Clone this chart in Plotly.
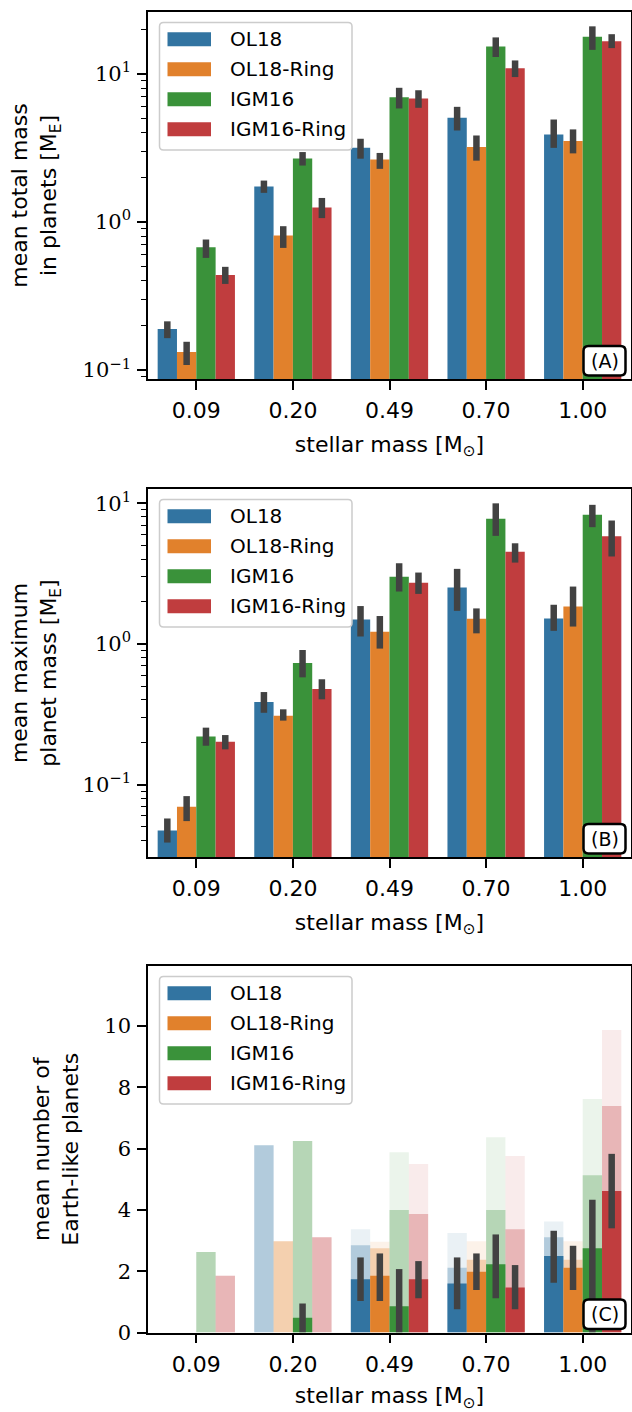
import plotly.graph_objects as go

# ---------------- data ----------------
categories = ["0.09", "0.20", "0.49", "0.70", "1.00"]
series = ["OL18", "OL18-Ring", "IGM16", "IGM16-Ring"]
colors = ["#3274a1", "#e1812c", "#3a923a", "#c03d3e"]

# Panel A: mean total mass in planets [M_E]  (rows follow `series`)
total_mean = [
    [0.189, 1.73, 3.16, 5.04, 3.89],
    [0.132, 0.809, 2.64, 3.20, 3.52],
    [0.674, 2.68, 6.95, 15.3, 17.8],
    [0.438, 1.25, 6.81, 10.9, 16.6],
]
total_lo = [
    [0.164, 1.57, 2.67, 4.14, 3.16],
    [0.108, 0.667, 2.28, 2.59, 2.90],
    [0.571, 2.40, 5.83, 12.97, 14.5],
    [0.381, 1.06, 5.89, 9.5, 14.9],
]
total_hi = [
    [0.213, 1.90, 3.64, 5.98, 4.91],
    [0.155, 0.935, 2.92, 3.83, 4.21],
    [0.76, 2.96, 8.04, 17.6, 20.9],
    [0.497, 1.45, 7.74, 12.3, 18.5],
]

# Panel B: mean maximum planet mass [M_E]
maxmass_mean = [
    [0.0472, 0.386, 1.49, 2.52, 1.52],
    [0.0695, 0.309, 1.22, 1.51, 1.85],
    [0.220, 0.733, 3.01, 7.76, 8.28],
    [0.202, 0.478, 2.73, 4.52, 5.84],
]
maxmass_lo = [
    [0.0387, 0.324, 1.13, 1.72, 1.24],
    [0.055, 0.285, 0.927, 1.19, 1.33],
    [0.189, 0.579, 2.36, 5.87, 6.77],
    [0.178, 0.404, 2.27, 3.79, 4.19],
]
maxmass_hi = [
    [0.0574, 0.455, 1.86, 3.42, 1.90],
    [0.0828, 0.343, 1.58, 1.79, 2.56],
    [0.254, 0.906, 3.75, 10.0, 9.76],
    [0.225, 0.561, 3.22, 5.2, 7.55],
]

# Panel C: mean number of Earth-like planets
earth_mean = [
    [0, 0, 1.74, 1.60, 2.50],
    [0, 0, 1.85, 1.98, 2.11],
    [0, 0.48, 0.86, 2.23, 2.75],
    [0, 0, 1.74, 1.47, 4.62],
]
earth_lo = [
    [0, 0, 1.03, 0.76, 1.62],
    [0, 0, 1.03, 1.39, 1.39],
    [0, 0, 0.0, 1.12, 0.0],
    [0, 0, 1.12, 0.76, 3.40],
]
earth_hi = [
    [0, 0, 2.45, 2.45, 3.32],
    [0, 0, 2.58, 2.58, 2.83],
    [0, 0.95, 2.07, 3.20, 4.33],
    [0, 0, 2.33, 2.20, 5.83],
]
earth_wide = [
    [0, 6.11, 2.85, 2.11, 3.11],
    [0, 2.98, 2.75, 2.37, 2.37],
    [2.63, 6.25, 4.0, 4.0, 5.13],
    [1.85, 3.11, 3.87, 3.37, 7.39],
]
earth_widest = [
    [0, 6.11, 3.37, 3.25, 3.62],
    [0, 2.98, 2.96, 2.98, 2.98],
    [2.63, 6.25, 5.88, 6.37, 7.62],
    [1.85, 3.11, 5.50, 5.76, 9.87],
]

log_tick_vals = [0.1, 1, 10]
log_tick_text = ["10<sup>\u22121</sup>", "10<sup>0</sup>", "10<sup>1</sup>"]
count_tick_vals = [0, 2, 4, 6, 8, 10]
panel_labels = ["(A)", "(B)", "(C)"]

# ---------------- style / layout ----------------
W, H = 632, 1412
SANS = "DejaVu Sans"
SERIF = "DejaVu Serif"
ERR_COLOR = "#424242"
AX_LEFT, AX_RIGHT = 148, 631
panel_px = [(12, 379), (489, 857), (966, 1332.5)]  # (top, bottom) in px


def rgba(hexcol, a):
    h = hexcol.lstrip("#")
    r, g, b = int(h[0:2], 16), int(h[2:4], 16), int(h[4:6], 16)
    return f"rgba({r},{g},{b},{a})"


def px(x):
    return x / W


def py(y):
    return 1 - y / H


fig = go.Figure()


def add_bars(ax_idx, means, los, his, opacity_layers=None):
    xa = "x" if ax_idx == 1 else f"x{ax_idx}"
    ya = "y" if ax_idx == 1 else f"y{ax_idx}"
    if opacity_layers:
        for layer_vals, alpha in opacity_layers:
            for i, name in enumerate(series):
                fig.add_trace(go.Bar(
                    x=categories, y=layer_vals[i], name=name,
                    marker=dict(color=rgba(colors[i], alpha), line=dict(width=0)),
                    offsetgroup=name, xaxis=xa, yaxis=ya, showlegend=False,
                ))
    for i, name in enumerate(series):
        m = means[i]
        plus = [h - v for h, v in zip(his[i], m)]
        minus = [v - l for v, l in zip(m, los[i])]
        fig.add_trace(go.Bar(
            x=categories, y=m, name=name,
            marker=dict(color=colors[i], line=dict(width=0)),
            offsetgroup=name, xaxis=xa, yaxis=ya, showlegend=False,
            error_y=dict(type="data", symmetric=False, array=plus, arrayminus=minus,
                         color=ERR_COLOR, thickness=6.5, width=0),
        ))


add_bars(1, total_mean, total_lo, total_hi)
add_bars(2, maxmass_mean, maxmass_lo, maxmass_hi)
add_bars(3, earth_mean, earth_lo, earth_hi,
         opacity_layers=[(earth_widest, 0.1), (earth_wide, 0.3)])

x_title = "stellar mass [M<sub>\u2299</sub>]"
y_titles = [
    "mean total mass<br>in planets [M<sub>E</sub>]",
    "mean maximum<br>planet mass [M<sub>E</sub>]",
    "mean number of<br>Earth-like planets",
]

common_axis = dict(
    showline=True, mirror=True, linecolor="black", linewidth=1.6,
    ticks="outside", ticklen=9, tickwidth=1.6, tickcolor="black",
    showgrid=False, zeroline=False, automargin=False,
)

layout = dict(
    width=W, height=H, margin=dict(l=0, r=0, t=0, b=0),
    paper_bgcolor="white", plot_bgcolor="white",
    barmode="group", bargap=0.2, bargroupgap=0,
    showlegend=False,
    font=dict(family=SANS, size=20, color="black"),
)

for k, (top, bot) in enumerate(panel_px):
    idx = "" if k == 0 else str(k + 1)
    anchor_x = "x" if k == 0 else f"x{k + 1}"
    anchor_y = "y" if k == 0 else f"y{k + 1}"
    layout["xaxis" + idx] = dict(
        common_axis, type="category", categoryorder="array", categoryarray=categories,
        range=[-0.5, 4.5], domain=[px(AX_LEFT), px(AX_RIGHT)], anchor=anchor_y,
        tickfont=dict(family=SANS, size=22, color="black"), ticklabelstandoff=2,
        title=dict(text=x_title, font=dict(family=SANS, size=22, color="black"), standoff=14),
    )
    ydict = dict(
        common_axis, domain=[py(bot), py(top)], anchor=anchor_x,
        tickfont=dict(family=SERIF, size=21, color="black"), ticklabelstandoff=2,
        title=dict(text=y_titles[k], font=dict(family=SANS, size=22, color="black"), standoff=20),
    )
    if k < 2:
        ydict.update(type="log", tickmode="array", tickvals=log_tick_vals, ticktext=log_tick_text,
                     minor=dict(dtick="D1", ticks="outside", ticklen=5, tickwidth=1.2,
                                tickcolor="black", showgrid=False))
        ydict["range"] = [-1.061, 1.417] if k == 0 else [-1.515, 1.102]
    else:
        ydict.update(type="linear", tickmode="array", tickvals=count_tick_vals, range=[0, 11.96])
    layout["yaxis" + idx] = ydict

fig.update_layout(**layout)


def rounded_path(x0, y0, x1, y1, r):
    # pixel coords -> paper path
    rx, ry = r / W, r / H
    X0, X1 = px(x0), px(x1)
    Y0, Y1 = py(y0), py(y1)  # Y0 top (larger), Y1 bottom
    return (f"M{X0 + rx},{Y0} L{X1 - rx},{Y0} Q{X1},{Y0} {X1},{Y0 - ry} "
            f"L{X1},{Y1 + ry} Q{X1},{Y1} {X1 - rx},{Y1} L{X0 + rx},{Y1} "
            f"Q{X0},{Y1} {X0},{Y1 + ry} L{X0},{Y0 - ry} Q{X0},{Y0} {X0 + rx},{Y0} Z")


shapes = []
annotations = []
for k, (top, bot) in enumerate(panel_px):
    # legend box
    shapes.append(dict(type="path", xref="paper", yref="paper", layer="above",
                       path=rounded_path(AX_LEFT + 11.5, top + 10.5, AX_LEFT + 204, top + 138, 4),
                       fillcolor="rgba(255,255,255,0.8)", line=dict(color="#cccccc", width=1.5)))
    for i, name in enumerate(series):
        yc = top + 27.3 + 30 * i
        shapes.append(dict(type="rect", xref="paper", yref="paper", layer="above",
                           x0=px(AX_LEFT + 19.5), x1=px(AX_LEFT + 63),
                           y0=py(yc + 7), y1=py(yc - 7),
                           fillcolor=colors[i], line=dict(width=0)))
        annotations.append(dict(xref="paper", yref="paper", x=px(AX_LEFT + 80), y=py(yc),
                                text=name, showarrow=False, xanchor="left", yanchor="middle",
                                font=dict(family=SANS, size=20, color="black")))
    # panel label box
    shapes.append(dict(type="path", xref="paper", yref="paper", layer="above",
                       path=rounded_path(583.5, bot - 33, 625.5, bot - 3.5, 5),
                       fillcolor="white", line=dict(color="black", width=2.5)))
    annotations.append(dict(xref="paper", yref="paper", x=px(604.5), y=py(bot - 18.25),
                            text=panel_labels[k], showarrow=False, xanchor="center", yanchor="middle",
                            font=dict(family=SANS, size=19, color="black")))

fig.update_layout(shapes=shapes, annotations=annotations)
fig.write_html("out.html", config={"displayModeBar": False},
               post_script="document.body.style.margin='0px';document.body.style.overflow='hidden';")
